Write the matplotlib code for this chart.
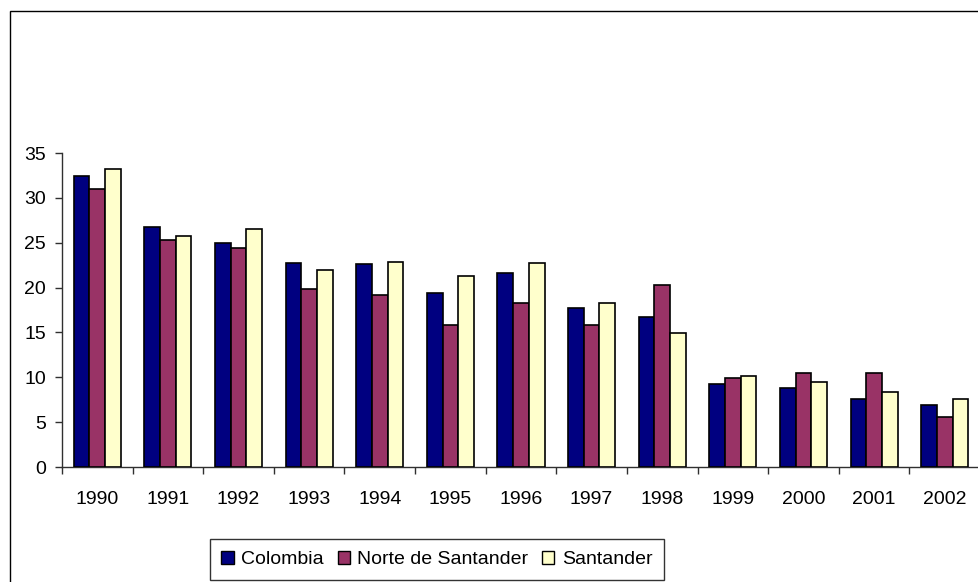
import matplotlib
matplotlib.use("Agg")
import matplotlib.pyplot as plt
from matplotlib.patches import Rectangle, Patch
import numpy as np

plt.rcParams['font.family'] = ['Liberation Sans', 'DejaVu Sans']

years = ['1990', '1991', '1992', '1993', '1994', '1995', '1996',
         '1997', '1998', '1999', '2000', '2001', '2002']
colombia = [32.4, 26.8, 25.0, 22.7, 22.6, 19.4, 21.6, 17.7, 16.7, 9.2, 8.8, 7.6, 6.9]
norte = [31.0, 25.3, 24.4, 19.8, 19.2, 15.8, 18.3, 15.8, 20.3, 9.9, 10.5, 10.5, 5.6]
santander = [33.2, 25.7, 26.5, 22.0, 22.85, 21.3, 22.7, 18.3, 14.9, 10.1, 9.5, 8.4, 7.6]
series_names = ['Colombia', 'Norte de Santander', 'Santander']
colors = ['#000080', '#993366', '#FFFFCC']
yticks = [0, 5, 10, 15, 20, 25, 30, 35]

W, H = 979, 582
fig = plt.figure(figsize=(W / 100, H / 100), dpi=100)

# outer chart border (cropped on right and bottom)
fig.patches.append(Rectangle((10 / W, -0.1), 1.2, (H - 11) / H + 0.1,
                             transform=fig.transFigure, fill=False,
                             edgecolor='black', linewidth=1.0))

ax = fig.add_axes([62 / W, 115 / H, 918 / W, 314 / H])
ax.patch.set_alpha(0)

n = len(years)
x = np.arange(n) + 0.5
bw = 1 / 4.5
for i, (vals, c) in enumerate(zip([colombia, norte, santander], colors)):
    ax.bar(x + (i - 1) * bw, vals, width=bw, color=c, edgecolor='black',
           linewidth=1.2, zorder=3)

ax.set_xlim(0, n)
ax.set_ylim(0, 35)
for s in ['top', 'right']:
    ax.spines[s].set_visible(False)
for s in ['left', 'bottom']:
    ax.spines[s].set_color('#303030')
    ax.spines[s].set_linewidth(1.0)

ax.set_yticks(yticks)
ax.set_yticklabels([str(v) for v in yticks])
ax.tick_params(axis='y', direction='out', length=5, width=1, color='#303030',
               labelsize=14, pad=6.5)

ax.set_xticks(np.arange(n + 1))
ax.set_xticklabels([])
ax.tick_params(axis='x', which='major', direction='out', length=5, width=1,
               color='#303030')
ax.set_xticks(x, minor=True)
ax.set_xticklabels(years, minor=True)
ax.tick_params(axis='x', which='minor', length=0, labelsize=14, pad=17.5)

handles = [Patch(facecolor=c, edgecolor='black', linewidth=1.0) for c in colors]
leg = fig.legend(handles, series_names, loc='center',
                 bbox_to_anchor=(437 / W, (H - 559.5) / H), ncol=3,
                 fontsize=14, frameon=True, fancybox=False, shadow=False,
                 handlelength=0.62, handleheight=0.62, handletextpad=0.4,
                 columnspacing=0.7, borderpad=0.6, borderaxespad=0)
leg.get_frame().set_edgecolor('black')
leg.get_frame().set_linewidth(1.0)

fig.savefig('out.png', dpi=100)
